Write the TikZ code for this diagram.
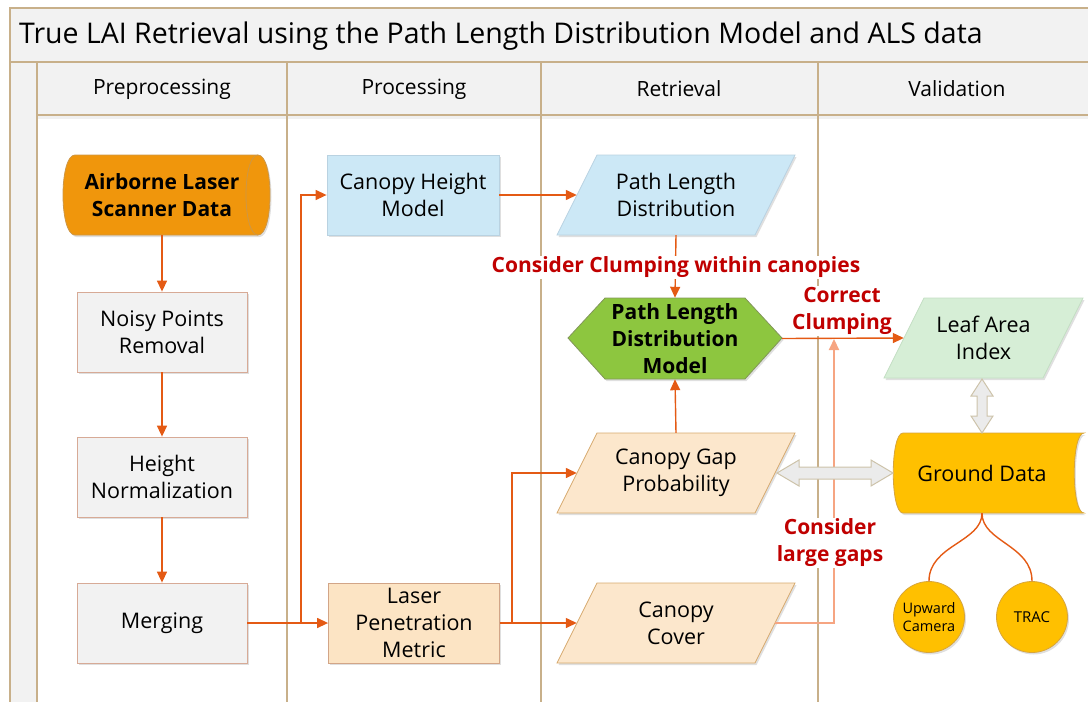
\documentclass[tikz,border=0pt]{standalone}
\usepackage{fontspec}
\setmainfont{Open Sans}
\usetikzlibrary{arrows.meta,shadows,calc}
\definecolor{lanec}{RGB}{200,176,138}
\definecolor{hdrc}{RGB}{242,242,242}
\definecolor{arrc}{RGB}{228,90,20}
\definecolor{lightarrc}{RGB}{246,165,130}
\definecolor{redc}{RGB}{192,0,0}
\definecolor{alsc}{RGB}{240,150,12}
\definecolor{alsb}{RGB}{205,150,70}
\definecolor{grayf}{RGB}{242,242,242}
\definecolor{grayb}{RGB}{215,170,150}
\definecolor{bluef}{RGB}{204,232,246}
\definecolor{blueb}{RGB}{185,210,225}
\definecolor{hexf}{RGB}{141,198,63}
\definecolor{hexb}{RGB}{130,150,90}
\definecolor{laif}{RGB}{214,238,214}
\definecolor{laib}{RGB}{195,222,195}
\definecolor{peachf}{RGB}{252,231,204}
\definecolor{peachb}{RGB}{215,170,110}
\definecolor{laserf}{RGB}{252,228,196}
\definecolor{laserb}{RGB}{210,165,135}
\definecolor{goldf}{RGB}{255,192,0}
\definecolor{goldb}{RGB}{215,165,60}
\definecolor{dblf}{RGB}{235,235,235}
\definecolor{dblb}{RGB}{205,195,170}
\newcommand{\mypara}[4]{%
  \path[#4] (#1-119,#2+40) -- (#1-79,#2-40) -- (#1+119,#2-40) -- (#1+79,#2+40) -- cycle;}
\begin{document}
\begin{tikzpicture}[x=1pt,y=-1pt,
  every node/.style={font=\fontsize{21.5}{27}\selectfont, inner sep=0pt, align=center},
  lane/.style={draw=lanec, line width=1.2pt},
  shd/.style={drop shadow={shadow xshift=1.5pt, shadow yshift=-2pt, opacity=0.25, fill=black!50}},
  box/.style={draw=#1, line width=0.8pt, minimum width=170, minimum height=80, shd},
  txtbox/.style={minimum width=198, minimum height=80},
  conn/.style={draw=arrc, line width=1.4pt},
  arr/.style={conn, -{Triangle[length=11pt,width=10pt]}},
  lightarr/.style={draw=lightarrc, line width=2.2pt, -{Triangle[length=11pt,width=10pt]}},
  lbl/.style={font=\fontsize{21}{27}\selectfont\bfseries, text=redc, fill=white, inner sep=1pt},
  bnode/.style={font=\fontsize{21}{27}\selectfont\bfseries},
  dbl/.style={fill=dblf, draw=dblb, line width=1pt},
  hdrtxt/.style={font=\fontsize{21}{24}\selectfont}]
\useasboundingbox (0,0) rectangle (1088,702);
% ---- frame and lanes ----
\fill[hdrc] (10,8) rectangle (1095,62);
\fill[hdrc] (10,62) rectangle (37,702);
\fill[hdrc] (37,62) rectangle (1095,115);
\fill[black, opacity=0.06] (37,115) rectangle (1095,119);
\draw[lane] (10,702) -- (10,8) -- (1095,8);
\draw[lane] (10,62) -- (1095,62);
\draw[lane] (37,115) -- (1095,115);
\draw[lane] (37,62) -- (37,702);
\draw[lane] (287,62) -- (287,702);
\draw[lane] (541,62) -- (541,702);
\draw[lane] (818,62) -- (818,702);
\node[anchor=west, font=\fontsize{28.5}{32}\selectfont] (title) at (19,36) {True LAI Retrieval using the Path Length Distribution Model and ALS data};
\node[hdrtxt] (h1) at (162,89) {Preprocessing};
\node[hdrtxt] (h2) at (414,89) {Processing};
\node[hdrtxt] (h3) at (679,89) {Retrieval};
\node[hdrtxt] (h4) at (957,89) {Validation};
% ---- shapes ----
% ALS cylinder
\path[fill=alsc, draw=alsb, line width=0.8pt, shd] (75,155) -- (258,155) .. controls (274,155) and (274,235) .. (258,235) -- (75,235) .. controls (59,235) and (59,155) .. (75,155) -- cycle;
\draw[alsb, line width=0.8pt] (258,155) .. controls (242,155) and (242,235) .. (258,235);
\node[bnode, minimum width=195, minimum height=80] (als) at (162,195) {Airborne Laser\\Scanner Data};
% preprocessing boxes
\node[box=grayb, fill=grayf] (noisy) at (162,332) {Noisy Points\\Removal};
\node[box=grayb, fill=grayf] (hnorm) at (162,477) {Height\\Normalization};
\node[box=grayb, fill=grayf] (merge) at (162,623) {Merging};
% processing
\node[box=blueb, fill=bluef, minimum width=172] (chm) at (413,195) {Canopy Height\\Model};
\node[box=laserb, fill=laserf, minimum width=171] (laser) at (414,623) {Laser\\Penetration\\Metric};
% retrieval parallelograms
\mypara{676}{195}{}{fill=bluef, draw=blueb, line width=0.8pt, shd}
\node[txtbox] (pld) at (676,195) {Path Length\\Distribution};
\mypara{676}{473}{}{fill=peachf, draw=peachb, line width=0.8pt, shd}
\node[txtbox] (cgp) at (676,473) {Canopy Gap\\Probability};
\mypara{676}{623}{}{fill=peachf, draw=peachb, line width=0.8pt, shd}
\node[txtbox] (cc) at (676,623) {Canopy\\Cover};
% hexagon
\path[fill=hexf, draw=hexb, line width=0.8pt, shd] (568,338) -- (605,298) -- (745,298) -- (782,338) -- (745,379) -- (605,379) -- cycle;
\node[bnode, minimum width=214, minimum height=81] (hex) at (675,338.5) {Path Length\\Distribution\\Model};
% LAI
\path[fill=laif, draw=laib, line width=0.8pt, shd] (884,378) -- (924,298) -- (1083,298) -- (1043,378) -- cycle;
\node[minimum width=159, minimum height=80] (lai) at (983.5,338) {Leaf Area\\Index};
% Ground data
\path[fill=goldf, draw=goldb, line width=0.8pt, shd] (903,433) -- (1084,433) .. controls (1071,433) and (1071,513) .. (1084,513) -- (903,513) .. controls (890,513) and (890,433) .. (903,433) -- cycle;
\node[minimum width=178, minimum height=80] (gd) at (982,473) {Ground Data};
% circles
\node[circle, fill=goldf, draw=goldb, line width=0.8pt, minimum size=71, shd, font=\fontsize{14.5}{18}\selectfont] (uc) at (929,617) {Upward\\Camera};
\node[circle, fill=goldf, draw=goldb, line width=0.8pt, minimum size=71, shd, font=\fontsize{15}{18}\selectfont] (trac) at (1032,617) {TRAC};
% label behind connectors
\node[lbl] (lcc) at (842,311) {Correct\\Clumping};
% ---- connectors ----
\draw[arr] (noisy.north |- als.south) -- (noisy.north);
\draw[arr] (noisy) -- (hnorm);
\draw[arr] (hnorm) -- (merge);
\coordinate (j1) at (301,623);
\coordinate (j2) at (512,623);
\draw[arr] (merge) -- (laser);
\draw[arr] (j1) |- (chm.west);
\draw[arr] (chm.east) -- (pld.west);
\draw[arr] (pld.south) -- (hex.north);
\draw[arr] (laser.east) -- (cc.west);
\draw[arr] (j2) |- (cgp.west);
\draw[arr] (cgp.north) -- (hex.south);
\coordinate (clmp) at (834,339);
\draw[lightarr] (cc.east) -| (clmp);
\draw[arr] (hex.east) -- (lai.west);
\draw[conn] (gd.south) .. controls (982,542) and (929,545) .. (uc.north);
\draw[conn] (gd.south) .. controls (982,542) and (1032,545) .. (trac.north);
% double arrows
\coordinate (da) at (777,473);
\coordinate (db) at (893,473);
\path[dbl] (da) -- ($(da)+(22,-13)$) -- ($(da)+(22,-6)$) -- ($(db)+(-22,-6)$) -- ($(db)+(-22,-13)$) -- (db) -- ($(db)+(-22,13)$) -- ($(db)+(-22,6)$) -- ($(da)+(22,6)$) -- ($(da)+(22,13)$) -- cycle;
\coordinate (va) at (982,379);
\coordinate (vb) at (982,433);
\path[dbl] (va) -- ($(va)+(11,17)$) -- ($(va)+(5,17)$) -- ($(vb)+(5,-17)$) -- ($(vb)+(11,-17)$) -- (vb) -- ($(vb)+(-11,-17)$) -- ($(vb)+(-5,-17)$) -- ($(va)+(-5,17)$) -- ($(va)+(-11,17)$) -- cycle;
% labels over connectors
\node[lbl] (lcw) at (676,267) {Consider Clumping within canopies};
\node[lbl] (llg) at (830,543) {Consider\\large gaps};
\end{tikzpicture}
\end{document}
